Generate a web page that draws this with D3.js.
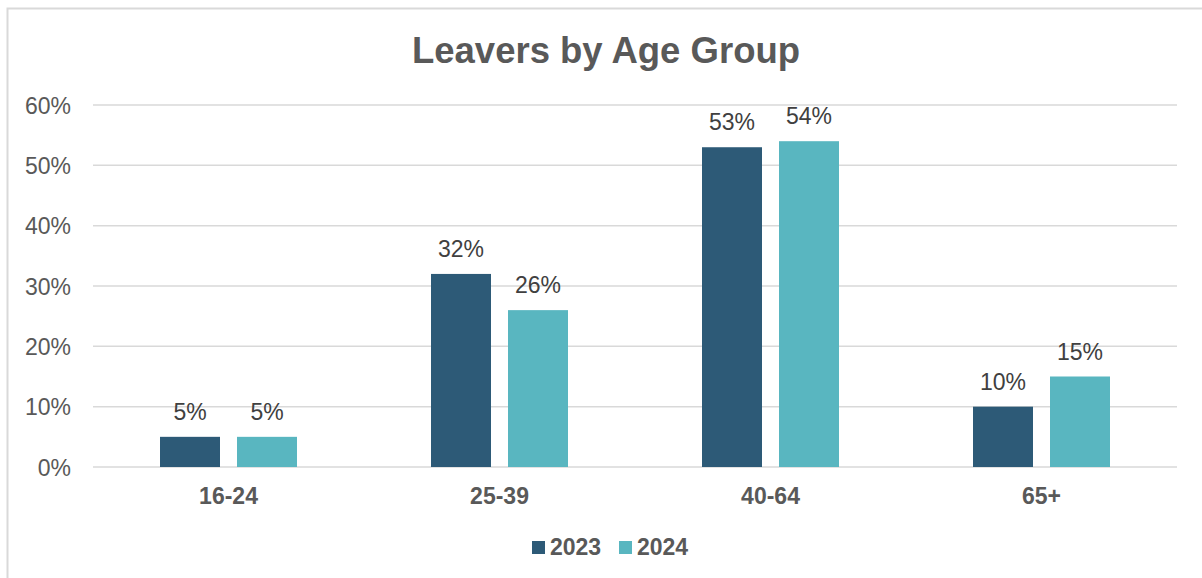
<!DOCTYPE html>
<html>
<head>
<meta charset="utf-8">
<script src="https://cdn.jsdelivr.net/npm/d3@7"></script>
<style>
  html, body { margin: 0; padding: 0; background: #fff; }
  svg { display: block; font-family: "Liberation Sans", Arial, sans-serif; }
</style>
</head>
<body>
<svg id="chart" width="1202" height="578"></svg>
<script>
// Share of leavers per age group, by year (percent)
const categories = ["16-24", "25-39", "40-64", "65+"];
const seriesNames = ["2023", "2024"];
const values2023 = [5, 32, 53, 10];
const values2024 = [5, 26, 54, 15];
const yTicks = [0, 10, 20, 30, 40, 50, 60];
const colors = ["#2D5A77", "#59B6C0"];

const series = [values2023, values2024];
const svg = d3.select("#chart");

// Outer frame of the chart (left and top edges visible)
svg.append("rect")
  .attr("x", 7.5).attr("y", 8.5)
  .attr("width", 1220).attr("height", 600)
  .attr("fill", "#fff").attr("stroke", "#D9D9D9").attr("stroke-width", 2);

const plot = { left: 93, right: 1177, top: 105, bottom: 467 };

const x = d3.scaleBand().domain(categories).range([plot.left, plot.right]);
const y = d3.scaleLinear().domain([0, 60]).range([plot.bottom, plot.top]);

const barW = 60, gap = 17;
const xs = d3.scaleOrdinal().domain(seriesNames)
  .range([-gap / 2 - barW, gap / 2]);

// Gridlines
svg.append("g")
  .selectAll("line").data(yTicks).join("line")
  .attr("x1", plot.left).attr("x2", plot.right)
  .attr("y1", d => y(d)).attr("y2", d => y(d))
  .attr("stroke", "#D9D9D9").attr("stroke-width", 1.5);

// Y axis labels
const yAxis = d3.axisLeft(y).tickValues(yTicks).tickSize(0).tickPadding(0)
  .tickFormat(d => d + "%");
svg.append("g")
  .attr("transform", `translate(71,0)`)
  .call(yAxis)
  .call(g => g.select(".domain").remove())
  .call(g => g.selectAll("text")
    .attr("fill", "#595959").attr("font-size", 23)
    .attr("font-family", "Liberation Sans, Arial, sans-serif")
    .attr("dy", "0.35em"));

// Bars and value labels
seriesNames.forEach((name, si) => {
  const g = svg.append("g");
  g.selectAll("rect").data(series[si]).join("rect")
    .attr("x", (d, i) => x(categories[i]) + x.bandwidth() / 2 + xs(name))
    .attr("y", d => y(d))
    .attr("width", barW)
    .attr("height", d => y(0) - y(d))
    .attr("fill", colors[si]);
  g.selectAll("text").data(series[si]).join("text")
    .attr("x", (d, i) => x(categories[i]) + x.bandwidth() / 2 + xs(name) + barW / 2)
    .attr("y", d => y(d) - 17)
    .attr("text-anchor", "middle")
    .attr("fill", "#404040").attr("font-size", 23)
    .text(d => d + "%");
});

// Category axis labels
const xAxis = d3.axisBottom(x).tickSize(0).tickPadding(0);
svg.append("g")
  .attr("transform", `translate(0,${plot.bottom})`)
  .call(xAxis)
  .call(g => g.select(".domain").remove())
  .call(g => g.selectAll("text")
    .attr("fill", "#595959").attr("font-size", 23).attr("font-weight", "bold")
    .attr("font-family", "Liberation Sans, Arial, sans-serif")
    .attr("y", 37).attr("dy", 0));

// Title
svg.append("text")
  .attr("x", 606).attr("y", 63)
  .attr("text-anchor", "middle")
  .attr("fill", "#595959").attr("font-size", 36.5).attr("font-weight", "bold")
  .text("Leavers by Age Group");

// Legend
const legend = svg.append("g");
const legendX = [532, 619];
seriesNames.forEach((name, i) => {
  legend.append("rect")
    .attr("x", legendX[i]).attr("y", 541)
    .attr("width", 13).attr("height", 13)
    .attr("fill", colors[i]);
  legend.append("text")
    .attr("x", legendX[i] + 18).attr("y", 555)
    .attr("fill", "#595959").attr("font-size", 23).attr("font-weight", "bold")
    .text(name);
});
</script>
</body>
</html>
